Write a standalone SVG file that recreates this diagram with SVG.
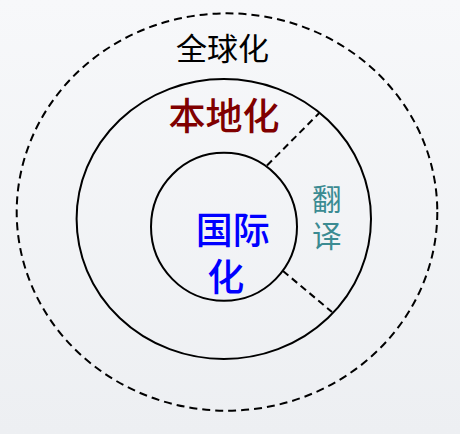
<svg xmlns="http://www.w3.org/2000/svg" width="460" height="434" viewBox="0 0 460 434">
  <defs>
    <linearGradient id="bg" x1="0" y1="0" x2="0" y2="1">
      <stop offset="0" stop-color="#f7f8fa"/>
      <stop offset="1" stop-color="#edeff2"/>
    </linearGradient>
    <style>
      .ring { fill: none; stroke: #000; stroke-width: 2; }
      .dash { fill: none; stroke: #000; stroke-width: 2; stroke-dasharray: 8 5; }
      .conn { stroke: #000; stroke-width: 2; stroke-dasharray: 7 4.5; }
      .t { font-family: "Noto Sans CJK SC", "Noto Sans CJK TC", sans-serif; text-anchor: middle; }
    </style>
  </defs>
  <rect x="0" y="0" width="460" height="434" fill="url(#bg)"/>

  <g id="globalization">
    <ellipse class="dash" cx="227" cy="212" rx="210.3" ry="198.7"/>
    <text class="t" x="222.5" y="60" font-size="31" fill="#000">全球化</text>
  </g>

  <g id="localization">
    <ellipse class="ring" cx="223.8" cy="219" rx="147.2" ry="140"/>
    <text class="t" x="224" y="129.5" font-size="37" font-weight="500" fill="#800000">本地化</text>
  </g>

  <g id="internationalization">
    <ellipse class="ring" cx="224" cy="226.8" rx="73" ry="74"/>
    <text class="t" font-size="37" font-weight="500" fill="#0000ff"><tspan x="232.8" y="244">国际</tspan><tspan x="225.8" y="290.8">化</tspan></text>
  </g>

  <g id="translation">
    <text class="t" font-size="29.5" fill="#3b8b92"><tspan x="326.7" y="210">翻</tspan><tspan x="326.7" y="247">译</tspan></text>
  </g>

  <g id="connectors">
    <line class="conn" x1="267" y1="165.5" x2="319" y2="113.3"/>
    <line class="conn" x1="283" y1="271" x2="332" y2="312"/>
  </g>
</svg>
